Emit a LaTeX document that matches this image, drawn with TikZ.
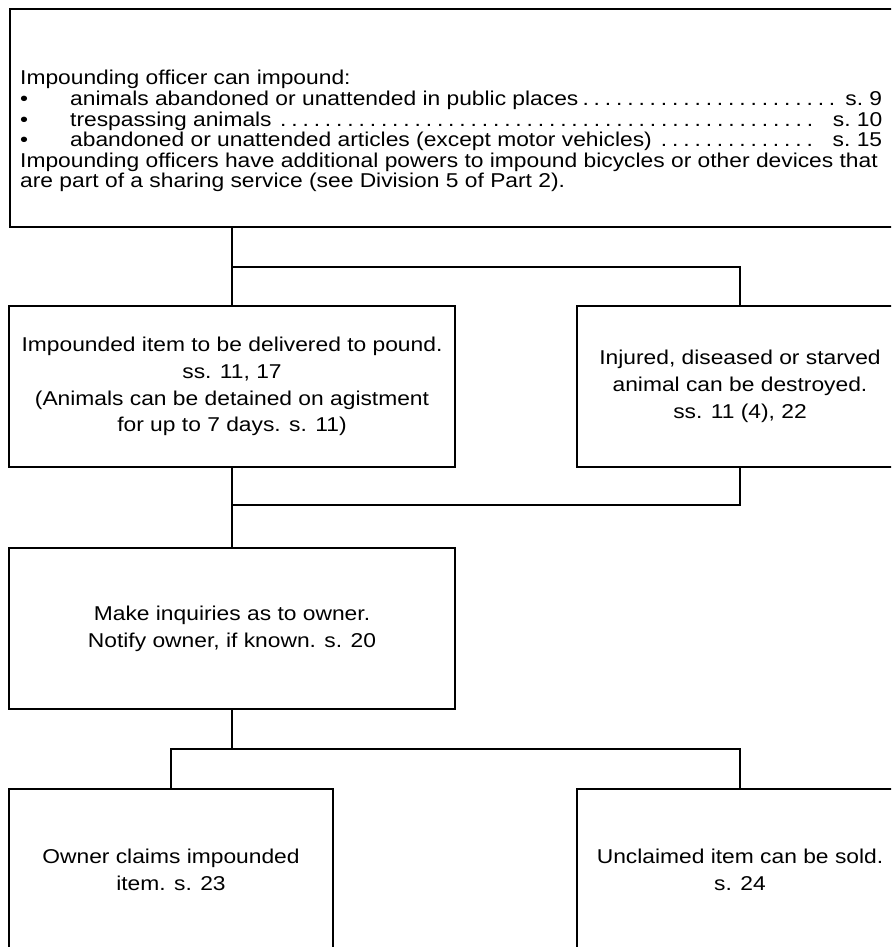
\documentclass[tikz,border=0pt]{standalone}
\usepackage{fontspec}
\setmainfont{Liberation Sans}[FakeStretch=1.14]
\newcommand\dotlead{\leaders\hbox to 11.2pt{\hss.\hss}\hfill}
\begin{document}
\begin{tikzpicture}[x=1pt,y=-1pt,
  box/.style={draw, line width=1.7pt, inner sep=0pt, align=center,
    font=\fontsize{20}{26.7}\selectfont},
  conn/.style={line width=1.2pt},
  txt/.style={anchor=base west, inner sep=0pt, font=\fontsize{20}{20.4}\selectfont}]
\useasboundingbox (0,0) rectangle (891,947);
\clip (0,0) rectangle (891,947);
\fill[white] (0,0) rectangle (891,947);

% top box
\node[draw, line width=1.7pt, inner sep=0pt, anchor=north west,
  minimum width=894pt, minimum height=218pt] (top) at (9,8) {};
\node[txt] (t1) at (20,85) {Impounding officer can impound:};
\node[txt] (t2) at (20,105.5) {\makebox[862pt][l]{\makebox[50pt][l]{•}animals abandoned or unattended in public places\dotlead s.~9}};
\node[txt] (t3) at (20,126) {\makebox[862pt][l]{\makebox[50pt][l]{•}trespassing animals\dotlead\ s.~10}};
\node[txt] (t4) at (20,146.5) {\makebox[862pt][l]{\makebox[50pt][l]{•}abandoned or unattended articles (except motor vehicles)\dotlead\ s.~15}};
\node[txt] (t5) at (20,167) {Impounding officers have additional powers to impound bicycles or other devices that};
\node[txt] (t6) at (20,187.5) {are part of a sharing service (see Division 5 of Part 2).};

% second row
\node[box, minimum width=446pt, minimum height=161pt] (b1) at (232,386.5)
  {Impounded item to be delivered to pound.\\ ss. 11, 17\\ (Animals can be detained on agistment\\ for up to 7 days. s. 11)};
\node[box, minimum width=326pt, minimum height=161pt] (b2) at (740,386.5)
  {Injured, diseased or starved\\ animal can be destroyed.\\ ss. 11 (4), 22};

% third row
\node[box, minimum width=446pt, minimum height=161pt] (b3) at (232,628.5)
  {Make inquiries as to owner.\\ Notify owner, if known. s. 20};

% bottom row
\node[box, minimum width=324pt, minimum height=162pt] (b4) at (171,870)
  {Owner claims impounded\\ item. s. 23};
\node[box, minimum width=326pt, minimum height=162pt] (b5) at (740,870)
  {Unclaimed item can be sold.\\ s. 24};

% connectors
\coordinate (j1) at (232,267);
\coordinate (j2) at (232,505);
\coordinate (j3) at (232,749);
\draw[conn] (b1.north |- top.south) -- (b1.north);
\draw[conn] (j1) -- (b2.north |- j1) -- (b2.north);
\draw[conn] (b1.south) -- (b3.north);
\draw[conn] (b2.south) -- (b2.south |- j2) -- (j2);
\draw[conn] (b3.south) -- (j3);
\draw[conn] (b4.north) -- (b4.north |- j3) -- (b5.north |- j3) -- (b5.north);
\end{tikzpicture}
\end{document}
